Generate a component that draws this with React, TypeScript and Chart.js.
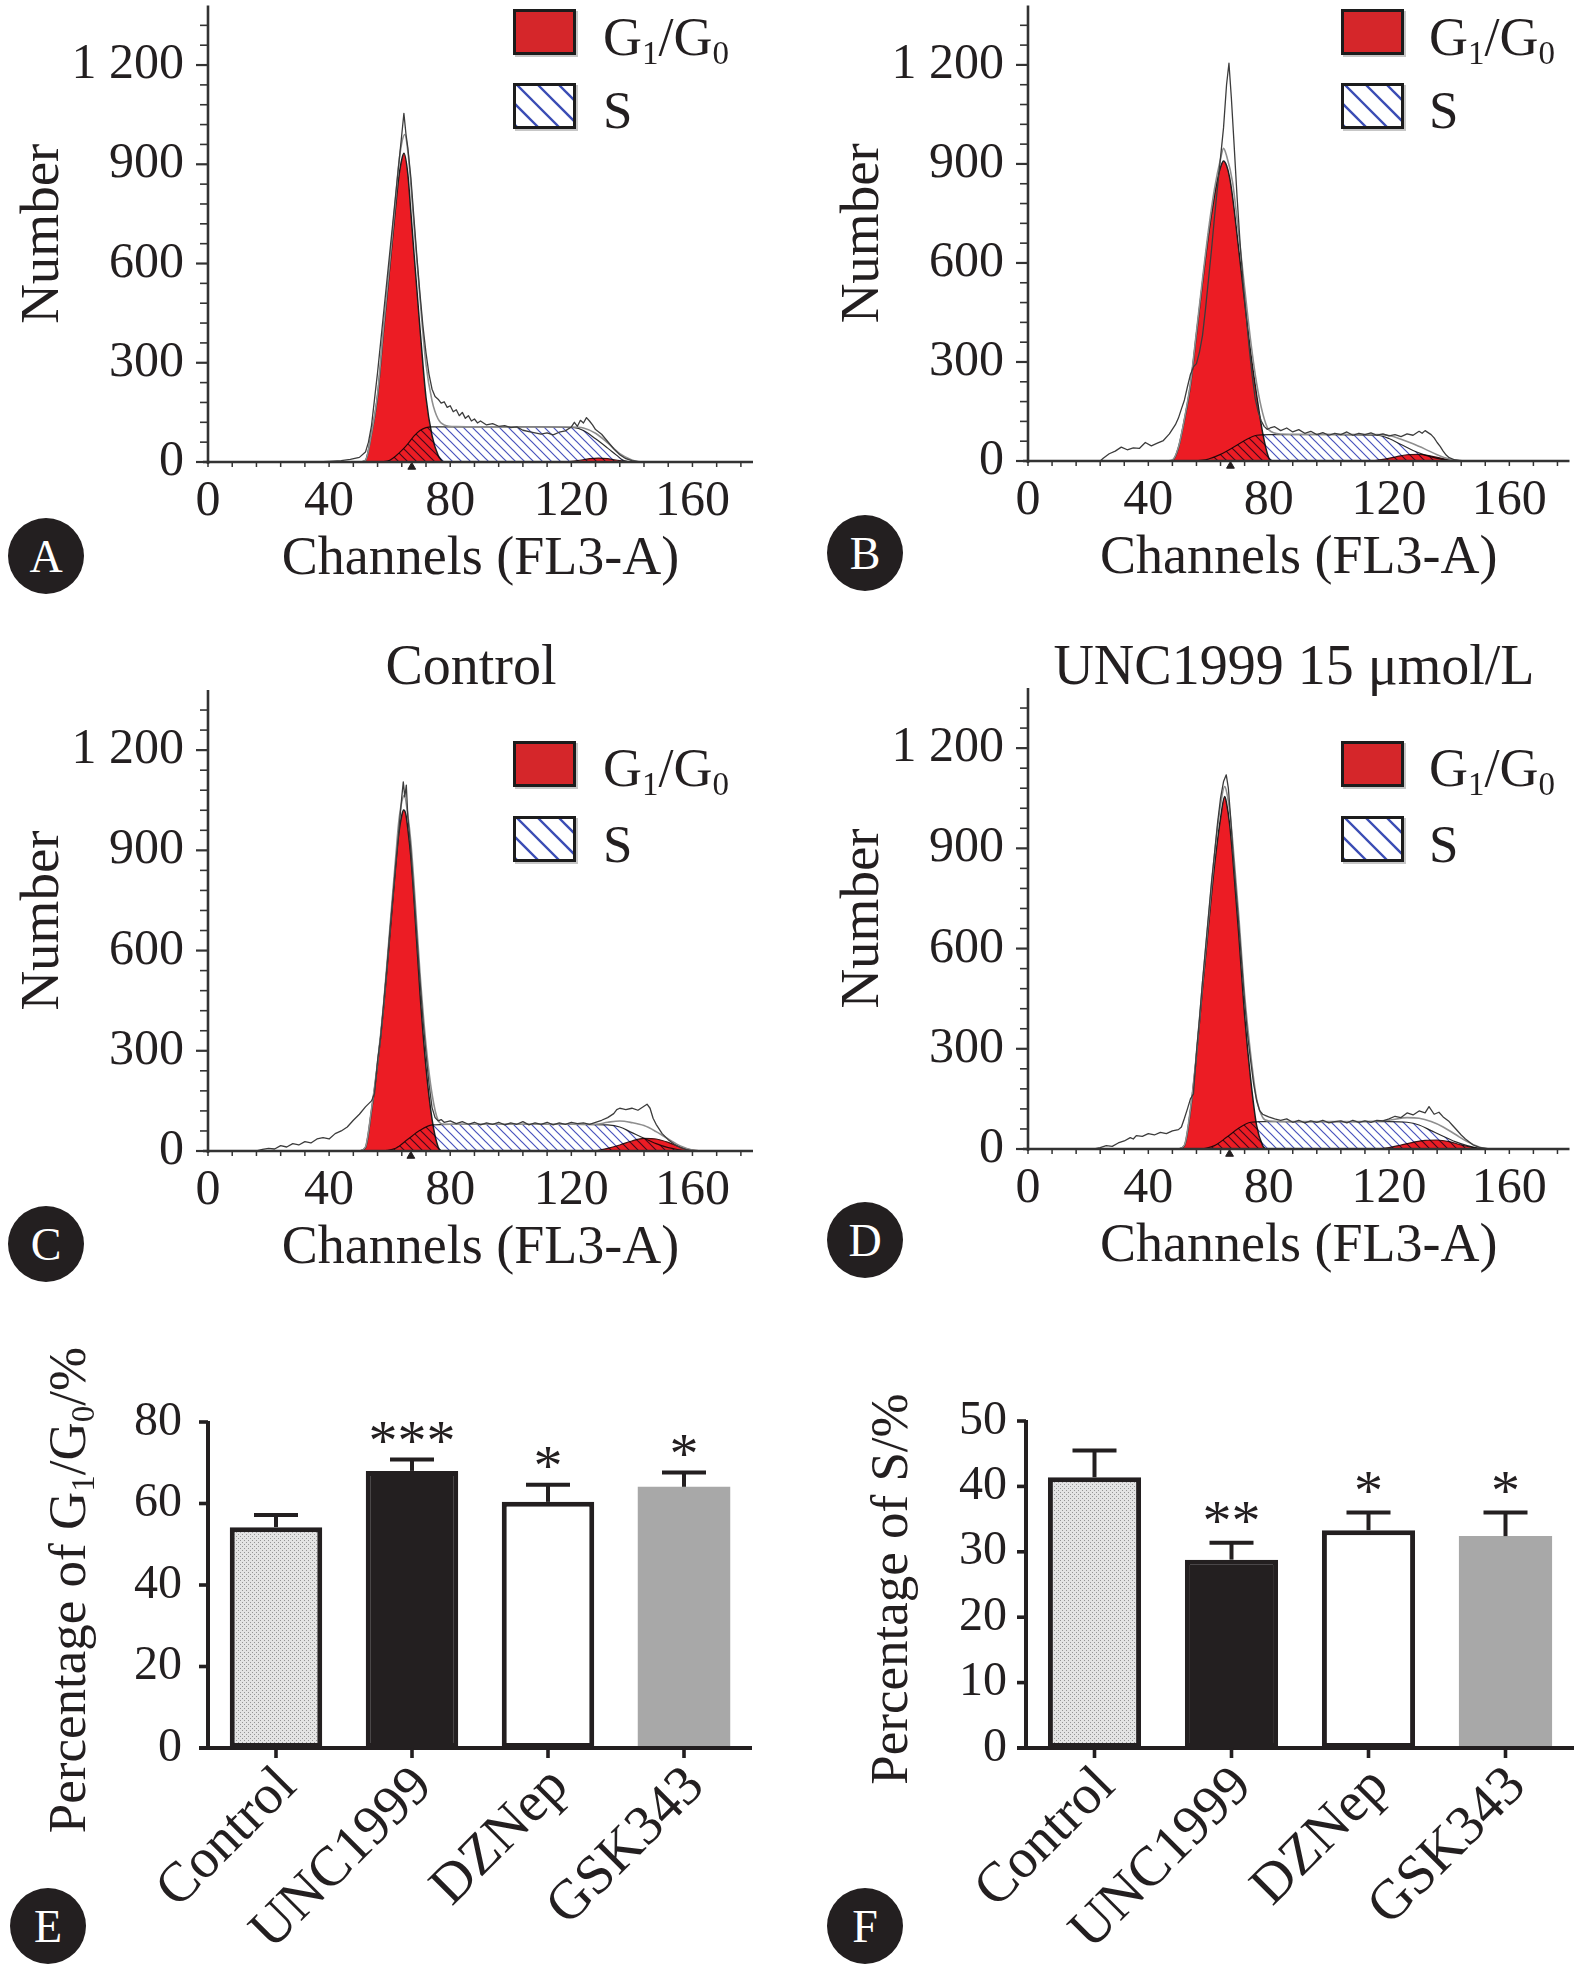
import React, { useEffect, useRef } from 'react';
import { Chart, registerables } from 'chart.js';

// Plugin that lets a dataset be painted with a canvas composite mode (used so the S hatch darkens over red)
const compositeModePlugin: any = {
  id: 'compositeMode',
  beforeDatasetDraw(chart: any, args: any) {
    const ds = chart.data.datasets[args.index];
    if (ds && ds.compositeMode) {
      chart.ctx.save();
      chart.ctx.globalCompositeOperation = ds.compositeMode;
    }
  },
  afterDatasetDraw(chart: any, args: any) {
    const ds = chart.data.datasets[args.index];
    if (ds && ds.compositeMode) chart.ctx.restore();
  },
};
Chart.register(compositeModePlugin);
Chart.register(...registerables);

const FONT = "'Liberation Serif', 'Times New Roman', 'DejaVu Serif', serif";
const INK = '#231f20';
const AXIS = '#333333';
const RED = '#ec1c24';

// ---------------- DATA: flow-cytometry histograms ----------------
// Panel A
const aG1Ch = [50, 52, 54, 56, 58, 60, 62, 63, 64, 64.7, 66, 67, 68, 70, 72, 74, 76, 77.5];
const aG1N = [0, 5, 85, 200, 400, 585, 775, 860, 915, 933, 870, 755, 635, 405, 195, 80, 20, 0];
const aSCh = [57, 60, 62, 64, 66, 68, 70, 72, 74, 90, 110, 121, 124, 128, 132, 135, 137, 139];
const aSN = [0, 5, 18, 35, 55, 78, 95, 104, 106, 106, 106, 104, 95, 70, 42, 20, 6, 0];
const aG2Ch = [118, 122, 126, 129, 132, 136, 140];
const aG2N = [0, 4, 10, 12, 10, 4, 0];
const aFitCh = [50, 52, 54, 56, 58, 60, 62, 63, 64, 65, 66, 67, 68, 70, 72, 74, 76, 78, 82, 100, 120, 124, 128, 132, 136, 140, 143];
const aFitN = [0, 5, 86, 205, 410, 600, 800, 900, 965, 990, 940, 840, 720, 495, 295, 185, 130, 112, 107, 106, 106, 103, 87, 58, 25, 6, 0];
const aRawCh = [36, 40, 44, 47, 50, 52, 53, 54, 55, 56, 57, 58, 59, 60, 61, 62, 63, 64, 64.7, 65.4, 66, 67, 68, 69, 70, 71, 72, 73, 74, 75, 76, 77, 78, 79, 80, 81, 82, 83, 84, 85, 86, 87, 88, 89, 90, 92, 94, 96, 98, 100, 102, 104, 106, 108, 110, 112, 114, 116, 118, 120, 121, 122, 123, 124, 125, 126, 127, 128, 130, 132, 134, 136, 138, 140, 142, 146];
const aRawN = [0, 2, 4, 8, 14, 30, 60, 110, 190, 270, 360, 450, 540, 630, 720, 810, 900, 990, 1054, 990, 950, 860, 740, 620, 510, 410, 330, 265, 220, 198, 190, 178, 182, 165, 170, 152, 158, 140, 150, 132, 140, 124, 130, 118, 124, 112, 116, 108, 110, 104, 106, 96, 92, 88, 84, 88, 82, 90, 94, 106, 120, 108, 126, 118, 134, 124, 112, 98, 84, 62, 40, 22, 10, 4, 1, 0];

// Panel B
const bG1Ch = [46, 48, 50, 52, 54, 56, 58, 60, 62, 63, 64, 65, 66, 67, 68, 70, 72, 74, 76, 78, 80, 81];
const bG1N = [0, 2, 40, 125, 230, 385, 540, 686, 805, 855, 890, 909, 895, 860, 800, 645, 484, 330, 200, 85, 10, 0];
const bSCh = [56, 60, 64, 68, 72, 76, 80, 100, 116, 120, 124, 128, 132, 136, 140, 143];
const bSN = [0, 6, 20, 40, 62, 78, 80, 80, 78, 68, 50, 32, 18, 8, 2, 0];
const bG2Ch = [114, 118, 122, 126, 130, 134, 138, 142, 146];
const bG2N = [0, 5, 12, 19, 20, 15, 7, 2, 0];
const bFitCh = [46, 48, 50, 52, 54, 56, 58, 60, 62, 64, 65, 66, 68, 70, 72, 74, 76, 78, 80, 84, 100, 116, 120, 124, 128, 132, 136, 140, 144];
const bFitN = [0, 3, 42, 128, 235, 392, 550, 700, 825, 915, 947, 925, 845, 690, 525, 365, 235, 145, 95, 82, 81, 80, 77, 66, 52, 36, 19, 6, 0];
const bRawCh = [24, 25, 27, 29, 31, 33, 35, 37, 39, 41, 43, 45, 47, 49, 50, 51, 52, 53, 54, 55, 56, 57, 58, 59, 60, 61, 62, 63, 64, 65, 66, 66.8, 67.6, 68.5, 69.5, 70.5, 71.5, 72.5, 73.5, 74.5, 75.5, 76.5, 77.5, 78.5, 79.5, 80.5, 82, 84, 86, 88, 90, 92, 94, 96, 98, 100, 102, 104, 106, 108, 110, 112, 114, 116, 118, 120, 122, 124, 126, 128, 130, 131, 132, 133, 134, 135, 136, 137, 138, 139, 140, 142, 145];
const bRawN = [0, 8, 22, 30, 42, 34, 40, 38, 56, 46, 54, 62, 82, 110, 130, 158, 185, 225, 262, 285, 295, 330, 380, 460, 550, 640, 740, 830, 920, 1010, 1140, 1205, 1100, 960, 800, 660, 540, 445, 345, 260, 190, 150, 122, 105, 96, 100, 104, 92, 100, 88, 95, 84, 90, 80, 86, 78, 84, 80, 88, 78, 84, 80, 85, 78, 82, 76, 80, 74, 82, 78, 90, 84, 92, 86, 80, 70, 56, 44, 30, 18, 10, 3, 0];

// Panel C (Control)
const cG1Ch = [50, 52, 54, 56, 58, 60, 62, 63, 64, 64.6, 65.3, 66, 67, 68, 70, 72, 74, 76, 77];
const cG1N = [0, 10, 120, 260, 430, 640, 855, 950, 1005, 1021, 1010, 965, 880, 760, 475, 250, 95, 12, 0];
const cSCh = [58, 62, 66, 70, 74, 80, 100, 120, 132, 136, 140, 144, 148, 152, 156, 158];
const cSN = [0, 8, 35, 62, 78, 80, 80, 80, 78, 72, 55, 38, 22, 10, 3, 0];
const cG2Ch = [128, 132, 136, 140, 144, 148, 152, 156, 160, 163];
const cG2N = [0, 8, 18, 30, 38, 36, 26, 12, 3, 0];
const cFitCh = [50, 52, 54, 56, 58, 60, 62, 63, 64, 64.8, 66, 67, 68, 70, 72, 74, 76, 78, 82, 100, 128, 132, 136, 140, 144, 148, 152, 156, 160, 163];
const cFitN = [0, 12, 125, 265, 440, 660, 880, 985, 1045, 1065, 1005, 925, 805, 535, 318, 170, 92, 80, 80, 80, 80, 86, 90, 85, 76, 58, 36, 15, 3, 0];
const cRawCh = [16, 18, 20, 22, 24, 26, 28, 30, 32, 34, 36, 38, 40, 42, 44, 46, 48, 50, 52, 54, 55, 56, 57, 58, 59, 60, 61, 62, 63, 64, 64.5, 65, 65.5, 66, 67, 68, 69, 70, 71, 72, 73, 74, 75, 76, 77, 78, 80, 82, 84, 86, 88, 90, 92, 94, 96, 98, 100, 102, 104, 106, 108, 110, 112, 114, 116, 118, 120, 122, 124, 126, 128, 130, 132, 134, 135, 136, 137, 138, 140, 142, 144, 145, 146, 147, 148, 150, 152, 154, 156, 158, 160];
const cRawN = [0, 5, 8, 6, 16, 12, 22, 18, 28, 24, 36, 40, 36, 52, 60, 72, 92, 110, 132, 150, 172, 270, 340, 440, 540, 650, 755, 860, 955, 1060, 1105, 1060, 1095, 1000, 900, 775, 640, 510, 390, 290, 200, 130, 100, 90, 94, 86, 90, 82, 88, 80, 86, 78, 84, 80, 86, 78, 84, 80, 88, 78, 84, 80, 86, 78, 84, 80, 86, 82, 84, 80, 86, 92, 100, 112, 124, 128, 126, 124, 128, 122, 134, 140, 128, 98, 80, 52, 34, 20, 10, 4, 0];

// Panel D (UNC1999 15 umol/L)
const dG1Ch = [50, 52, 54, 56, 58, 60, 62, 64, 65.4, 66, 67, 68, 70, 72, 74, 76, 78, 79];
const dG1N = [0, 10, 115, 280, 480, 670, 850, 990, 1055, 1035, 975, 880, 650, 400, 210, 70, 10, 0];
const dSCh = [58, 62, 66, 70, 74, 78, 100, 120, 126, 130, 134, 138, 142, 146, 150, 152];
const dSN = [0, 10, 35, 62, 80, 82, 82, 82, 80, 72, 55, 38, 22, 10, 2, 0];
const dG2Ch = [116, 120, 124, 128, 132, 136, 140, 144, 148, 151];
const dG2N = [0, 4, 12, 20, 26, 27, 22, 12, 4, 0];
const dFitCh = [50, 52, 54, 56, 58, 60, 62, 64, 65.4, 66, 67, 68, 70, 72, 74, 76, 78, 80, 90, 110, 120, 126, 130, 134, 138, 142, 146, 150, 153];
const dFitN = [0, 12, 120, 285, 495, 690, 880, 1030, 1085, 1070, 1015, 925, 705, 462, 285, 150, 95, 84, 82, 82, 86, 94, 92, 82, 66, 44, 22, 6, 0];
const dRawCh = [22, 24, 26, 28, 30, 32, 34, 35, 36, 38, 40, 42, 44, 46, 48, 50, 51, 52, 53, 54, 55, 56, 57, 58, 59, 60, 61, 62, 63, 64, 65, 65.9, 66.6, 67.3, 68, 69, 70, 71, 72, 73, 74, 75, 76, 77, 78, 79, 80, 82, 84, 86, 88, 90, 92, 94, 96, 98, 100, 102, 104, 106, 108, 110, 112, 114, 116, 118, 120, 122, 124, 126, 128, 130, 132, 133.3, 135, 136.6, 138, 140, 141, 142, 144, 145.4, 148, 150, 153];
const dRawN = [0, 4, 10, 8, 18, 24, 34, 30, 40, 38, 46, 42, 50, 46, 54, 58, 66, 92, 120, 150, 165, 290, 390, 500, 600, 700, 800, 885, 975, 1050, 1100, 1120, 1080, 1000, 905, 790, 680, 560, 440, 340, 265, 195, 145, 115, 104, 100, 96, 90, 86, 90, 80, 86, 78, 84, 80, 86, 78, 82, 84, 78, 86, 80, 84, 80, 86, 84, 90, 98, 94, 108, 102, 114, 108, 127, 104, 110, 96, 82, 72, 62, 42, 30, 12, 5, 0];

// G1 mean-channel marker (small triangle under the axis) for A, B, C, D
const peakMarkCh = [67.3, 67.3, 67.0, 67.0];

// ---------------- DATA: bar charts ----------------
const groups = ['Control', 'UNC1999', 'DZNep', 'GSK343'];
const g1Pct = [54.2, 68.0, 60.4, 64.1];
const g1Sd = [3.0, 2.8, 4.2, 3.5];
const g1Sig = ['', '***', '*', '*'];
const sPct = [41.4, 28.8, 33.3, 32.4];
const sSd = [4.1, 2.6, 2.7, 3.6];
const sSig = ['', '**', '*', '*'];

// ---------------- helpers ----------------
const pts = (xs: number[], ys: number[]) => xs.map((x, i) => ({ x, y: ys[i] }));

function seg(ctx: any, x1: number, y1: number, x2: number, y2: number, w: number) {
  ctx.lineWidth = w;
  ctx.beginPath();
  ctx.moveTo(x1, y1);
  ctx.lineTo(x2, y2);
  ctx.stroke();
}

function makeHatch(ctx: any, color: string, step: number, lw: number) {
  const c = document.createElement('canvas');
  c.width = step;
  c.height = step;
  const g = c.getContext('2d') as any;
  g.strokeStyle = color;
  g.lineWidth = lw;
  g.beginPath();
  for (const o of [-step, 0, step]) {
    g.moveTo(o - 1, -1);
    g.lineTo(o + step + 1, step + 1);
  }
  g.stroke();
  return ctx.createPattern(c, 'repeat');
}

function makeStipple(ctx: any) {
  const c = document.createElement('canvas');
  c.width = 4;
  c.height = 4;
  const g = c.getContext('2d') as any;
  g.fillStyle = '#e4e4e4';
  g.fillRect(0, 0, 4, 4);
  g.fillStyle = '#959595';
  g.fillRect(0, 0, 1, 1);
  g.fillRect(2, 2, 1, 1);
  return ctx.createPattern(c, 'repeat');
}

type Part = [string, boolean];
function drawRich(ctx: any, parts: Part[], x: number, y: number, size: number, align: string) {
  const big = `${size}px ${FONT}`;
  const small = `${Math.round(size * 0.62)}px ${FONT}`;
  ctx.textBaseline = 'alphabetic';
  ctx.textAlign = 'left';
  const widths = parts.map(([t, sub]) => {
    ctx.font = sub ? small : big;
    return ctx.measureText(t).width;
  });
  const total = widths.reduce((s, w) => s + w, 0);
  let cx = align === 'center' ? x - total / 2 : x;
  parts.forEach(([t, sub], i) => {
    ctx.font = sub ? small : big;
    ctx.fillText(t, cx, sub ? y + size * 0.17 : y);
    cx += widths[i];
  });
}

function drawCenteredText(ctx: any, txt: string, cx: number, cy: number, size: number) {
  ctx.font = `${size}px ${FONT}`;
  ctx.textAlign = 'center';
  ctx.textBaseline = 'alphabetic';
  const m = ctx.measureText(txt);
  ctx.fillText(txt, cx, cy + (m.actualBoundingBoxAscent - m.actualBoundingBoxDescent) / 2);
}

const zeroPad = (s: any) => {
  s.paddingTop = 0;
  s.paddingBottom = 0;
  s.paddingLeft = 0;
  s.paddingRight = 0;
};

const fmtCount = (v: number) => (v >= 1000 ? `${Math.floor(v / 1000)} ${String(v % 1000).padStart(3, '0')}` : String(v));

// ---------------- histogram panels ----------------
const X_MAX = 180;
const Y_MAX = 1380;
const Y_MAJOR = 300;
const Y_MINOR = 60;
const X_MINOR = 8;

const HIST_PANELS: any[] = [
  {
    key: 'A', left: 0, top: 0, width: 787, height: 600, chartTop: 3, chartBottom: 462, chartRight: 753,
    legend: { x: 513, y1: 9, y2: 83, tx: 603, b1: 55, b2: 128 },
    g1: [aG1Ch, aG1N], s: [aSCh, aSN], g2: [aG2Ch, aG2N], fit: [aFitCh, aFitN], raw: [aRawCh, aRawN], mark: peakMarkCh[0],
  },
  {
    key: 'B', left: 820, top: 0, width: 755, height: 599, chartTop: 3, chartBottom: 461, chartRight: 755,
    legend: { x: 521, y1: 9, y2: 83, tx: 609, b1: 55, b2: 128 },
    g1: [bG1Ch, bG1N], s: [bSCh, bSN], g2: [bG2Ch, bG2N], fit: [bFitCh, bFitN], raw: [bRawCh, bRawN], mark: peakMarkCh[1],
  },
  {
    key: 'C', left: 0, top: 620, width: 787, height: 669, chartTop: 70, chartBottom: 531, chartRight: 753,
    legend: { x: 513, y1: 121, y2: 196, tx: 603, b1: 166, b2: 242 }, title: { text: 'Control', x: 471, y: 49 },
    g1: [cG1Ch, cG1N], s: [cSCh, cSN], g2: [cG2Ch, cG2N], fit: [cFitCh, cFitN], raw: [cRawCh, cRawN], mark: peakMarkCh[2],
  },
  {
    key: 'D', left: 820, top: 620, width: 755, height: 667, chartTop: 68, chartBottom: 529, chartRight: 755,
    legend: { x: 521, y1: 121, y2: 196, tx: 609, b1: 166, b2: 242 }, title: { text: 'UNC1999 15 μmol/L', x: 474, y: 49 },
    g1: [dG1Ch, dG1N], s: [dSCh, dSN], g2: [dG2Ch, dG2N], fit: [dFitCh, dFitN], raw: [dRawCh, dRawN], mark: peakMarkCh[3],
  },
];

function drawLegend(ctx: any, L: any) {
  const W = 63, H = 46;
  // G1/G0 box
  ctx.fillStyle = 'rgba(0,0,0,0.22)';
  ctx.fillRect(L.x + 2, L.y1 + 2, W, H);
  ctx.fillStyle = '#d5262a';
  ctx.fillRect(L.x, L.y1, W, H);
  ctx.strokeStyle = '#1c1c1c';
  ctx.lineWidth = 3;
  ctx.strokeRect(L.x + 1.5, L.y1 + 1.5, W - 3, H - 3);
  // S box
  ctx.fillStyle = 'rgba(0,0,0,0.22)';
  ctx.fillRect(L.x + 2, L.y2 + 2, W, H);
  ctx.fillStyle = '#ffffff';
  ctx.fillRect(L.x, L.y2, W, H);
  ctx.save();
  ctx.beginPath();
  ctx.rect(L.x, L.y2, W, H);
  ctx.clip();
  ctx.strokeStyle = '#3a4cb4';
  for (let k = -H + 6; k < W + H; k += 21) seg(ctx, L.x + k, L.y2, L.x + k + H, L.y2 + H, 2.4);
  ctx.restore();
  ctx.strokeStyle = '#1c1c1c';
  ctx.lineWidth = 3;
  ctx.strokeRect(L.x + 1.5, L.y2 + 1.5, W - 3, H - 3);
  // texts
  ctx.fillStyle = INK;
  drawRich(ctx, [['G', false], ['1', true], ['/G', false], ['0', true]], L.tx, L.b1, 54, 'left');
  drawRich(ctx, [['S', false]], L.tx, L.b2, 53, 'left');
}

function histPlugin(p: any) {
  return {
    id: 'histDecor',
    afterDatasetsDraw(chart: any) {
      const { ctx, chartArea: a } = chart;
      const x = chart.scales.x;
      const y = chart.scales.y;
      ctx.save();
      ctx.strokeStyle = AXIS;
      seg(ctx, a.left, a.bottom + 2, a.left, a.top, 2.6);
      for (let v = 0; v <= Y_MAX - Y_MINOR; v += Y_MINOR) {
        const py = y.getPixelForValue(v);
        const major = v % Y_MAJOR === 0;
        seg(ctx, a.left - (major ? 12 : 8), py, a.left, py, major ? 2.2 : 1.6);
      }
      seg(ctx, a.left - 5, a.bottom, a.right, a.bottom, 2.4);
      for (let c = 0; c <= X_MAX; c += X_MINOR) {
        const px = x.getPixelForValue(c);
        seg(ctx, px, a.bottom, px, a.bottom + 5, 1.5);
      }
      drawLegend(ctx, p.legend);
      if (p.title) {
        ctx.fillStyle = INK;
        ctx.font = `56px ${FONT}`;
        ctx.textAlign = 'center';
        ctx.textBaseline = 'middle';
        ctx.fillText(p.title.text, p.title.x, p.title.y);
      }
      ctx.restore();
    },
  };
}

function buildHist(canvas: HTMLCanvasElement, p: any) {
  const ctx = canvas.getContext('2d') as any;
  const hatch = makeHatch(ctx, 'rgb(72,82,188)', 9, 1.2);
  const line = { pointRadius: 0, borderJoinStyle: 'round' };
  return new Chart(canvas, {
    type: 'line',
    data: {
      datasets: [
        { type: 'scatter', label: 'G1 mean', data: [{ x: p.mark, y: -15 }], pointStyle: 'triangle', pointRadius: 4.5, backgroundColor: INK, borderColor: INK, borderWidth: 1, clip: false, order: 0 } as any,
        { label: 'Histogram', data: pts(p.raw[0], p.raw[1]), borderColor: '#3c3c3c', borderWidth: 1.3, fill: false, tension: 0, order: 1, ...line },
        { label: 'Model fit', data: pts(p.fit[0], p.fit[1]), borderColor: '#8e8e8e', borderWidth: 1.6, fill: false, cubicInterpolationMode: 'monotone', order: 2, ...line },
        { label: 'S', data: pts(p.s[0], p.s[1]), borderColor: '#2e2e2e', borderWidth: 1.2, backgroundColor: hatch, fill: 'origin', cubicInterpolationMode: 'monotone', compositeMode: 'multiply', order: 3, ...line },
        { label: 'G2/M', data: pts(p.g2[0], p.g2[1]), borderColor: '#3a1414', borderWidth: 1.2, backgroundColor: RED, fill: 'origin', cubicInterpolationMode: 'monotone', order: 4, ...line },
        { label: 'G1/G0', data: pts(p.g1[0], p.g1[1]), borderColor: '#1e1e1e', borderWidth: 1.5, backgroundColor: RED, fill: 'origin', cubicInterpolationMode: 'monotone', order: 5, ...line },
      ] as any,
    },
    options: {
      responsive: false,
      animation: false,
      events: [],
      layout: { padding: { left: 0, top: p.chartTop, right: p.width - p.chartRight, bottom: 0 } },
      plugins: { legend: { display: false }, tooltip: { enabled: false }, title: { display: false } },
      scales: {
        x: {
          type: 'linear', min: 0, max: X_MAX,
          grid: { display: false, drawTicks: false }, border: { display: false },
          ticks: { stepSize: 40, includeBounds: false, autoSkip: false, maxRotation: 0, font: { family: FONT, size: 50 }, color: INK, padding: 10,
            callback: (v: any) => (v % 40 === 0 ? String(v) : '') },
          title: { display: true, text: 'Channels (FL3-A)', font: { family: FONT, size: 54 }, color: INK, padding: { top: 0, bottom: 8 } },
          afterFit: (s: any) => { s.height = p.height - p.chartBottom; zeroPad(s); },
        },
        y: {
          type: 'linear', min: 0, max: Y_MAX,
          grid: { display: false, drawTicks: false }, border: { display: false },
          ticks: { stepSize: Y_MAJOR, includeBounds: false, autoSkip: false, font: { family: FONT, size: 50 }, color: INK, padding: 24,
            callback: (v: any) => (v % Y_MAJOR === 0 ? fmtCount(v) : '') },
          title: { display: true, text: 'Number', font: { family: FONT, size: 55 }, color: INK, padding: { top: 11, bottom: 0 } },
          afterFit: (s: any) => { s.width = 208; zeroPad(s); },
        },
      },
    } as any,
    plugins: [histPlugin(p)],
  });
}

// ---------------- bar panels ----------------
const BAR_PANELS: any[] = [
  {
    key: 'E', left: 0, top: 1300, width: 787, height: 669, chartLeft: 208, chartRight: 752, chartTop: 122, chartBottom: 448,
    yMax: 80, step: 20, tickPad: 26, titleBaseX: 85, titleCY: 290, starGap: 27,
    means: g1Pct, sd: g1Sd, sig: g1Sig,
    titleParts: [['Percentage of G', false], ['1', true], ['/G', false], ['0', true], ['/%', false]],
  },
  {
    key: 'F', left: 820, top: 1300, width: 755, height: 669, chartLeft: 206, chartRight: 754, chartTop: 121, chartBottom: 448,
    yMax: 50, step: 10, tickPad: 19, titleBaseX: 87, titleCY: 289, starGap: 30,
    means: sPct, sd: sSd, sig: sSig,
    titleParts: [['Percentage of S/%', false]],
  },
];

function barPlugin(p: any) {
  return {
    id: 'barDecor',
    afterDatasetsDraw(chart: any) {
      const { ctx, chartArea: a } = chart;
      const x = chart.scales.x;
      const y = chart.scales.y;
      ctx.save();
      ctx.strokeStyle = INK;
      ctx.fillStyle = INK;
      ctx.lineCap = 'butt';
      p.means.forEach((m: number, i: number) => {
        const px = x.getPixelForValue(i);
        const yb = y.getPixelForValue(m);
        const yt = y.getPixelForValue(m + p.sd[i]);
        seg(ctx, px, yb, px, yt, 4);
        seg(ctx, px - 22, yt, px + 22, yt, 4);
        if (p.sig[i]) drawCenteredText(ctx, p.sig[i], px, yt - p.starGap, 58);
      });
      seg(ctx, a.left, a.bottom + 2, a.left, a.top - 1, 4);
      for (let v = 0; v <= p.yMax; v += p.step) {
        const py = y.getPixelForValue(v);
        seg(ctx, a.left - 9, py, a.left, py, 3.6);
      }
      seg(ctx, a.left - 9, a.bottom, a.right, a.bottom, 4);
      p.means.forEach((_: number, i: number) => {
        const px = x.getPixelForValue(i);
        seg(ctx, px, a.bottom, px, a.bottom + 10, 3.6);
      });
      ctx.save();
      ctx.translate(p.titleBaseX, p.titleCY);
      ctx.rotate(-Math.PI / 2);
      ctx.fillStyle = INK;
      drawRich(ctx, p.titleParts, 0, 0, 53, 'center');
      ctx.restore();
      ctx.restore();
    },
  };
}

function buildBars(canvas: HTMLCanvasElement, p: any) {
  const ctx = canvas.getContext('2d') as any;
  const stipple = makeStipple(ctx);
  return new Chart(canvas, {
    type: 'bar',
    data: {
      labels: groups,
      datasets: [
        {
          data: p.means,
          backgroundColor: [stipple, INK, '#ffffff', '#a8a8a8'],
          borderColor: [INK, INK, INK, '#a8a8a8'],
          borderWidth: [5, 5, 5, 0],
          borderSkipped: false,
          barPercentage: 0.68,
          categoryPercentage: 1,
        } as any,
      ],
    },
    options: {
      responsive: false,
      animation: false,
      events: [],
      layout: { padding: { left: 0, top: p.chartTop, right: p.width - p.chartRight, bottom: 0 } },
      plugins: { legend: { display: false }, tooltip: { enabled: false } },
      scales: {
        x: {
          grid: { display: false, drawTicks: false }, border: { display: false },
          ticks: { font: { family: FONT, size: 56 }, color: INK, minRotation: 45, maxRotation: 45, autoSkip: false, padding: 6, labelOffset: 12 },
          afterFit: (s: any) => { s.height = p.height - p.chartBottom; zeroPad(s); },
        },
        y: {
          min: 0, max: p.yMax,
          grid: { display: false, drawTicks: false }, border: { display: false },
          ticks: { stepSize: p.step, font: { family: FONT, size: 48 }, color: INK, padding: p.tickPad },
          afterFit: (s: any) => { s.width = p.chartLeft; zeroPad(s); },
        },
      },
    } as any,
    plugins: [barPlugin(p)],
  });
}

// ---------------- React ----------------
function ChartCanvas({ spec, build }: any) {
  const ref = useRef<HTMLCanvasElement>(null);
  useEffect(() => {
    const chart = build(ref.current as HTMLCanvasElement, spec);
    return () => chart.destroy();
  }, []);
  return (
    <div style={{ position: 'absolute', left: spec.left, top: spec.top, width: spec.width, height: spec.height }}>
      <canvas ref={ref} width={spec.width} height={spec.height} style={{ display: 'block', width: spec.width, height: spec.height }} />
    </div>
  );
}

const BADGES: [string, number, number][] = [
  ['A', 46, 556],
  ['B', 865, 553],
  ['C', 46, 1244],
  ['D', 865, 1240],
  ['E', 48, 1926],
  ['F', 865, 1926],
];

function Badge({ letter, cx, cy }: any) {
  return (
    <div
      style={{
        position: 'absolute', left: cx - 38, top: cy - 38, width: 76, height: 76, borderRadius: '50%',
        background: INK, color: '#ffffff', fontFamily: FONT, fontSize: 46, lineHeight: '78px', textAlign: 'center',
      }}
    >
      {letter}
    </div>
  );
}

export default function App() {
  return (
    <div style={{ position: 'absolute', left: 0, top: 0, width: 1575, height: 1969, background: '#ffffff', overflow: 'hidden' }}>
      {HIST_PANELS.map((p) => (
        <ChartCanvas key={p.key} spec={p} build={buildHist} />
      ))}
      {BAR_PANELS.map((p) => (
        <ChartCanvas key={p.key} spec={p} build={buildBars} />
      ))}
      {BADGES.map(([l, cx, cy]) => (
        <Badge key={l} letter={l} cx={cx} cy={cy} />
      ))}
    </div>
  );
}
